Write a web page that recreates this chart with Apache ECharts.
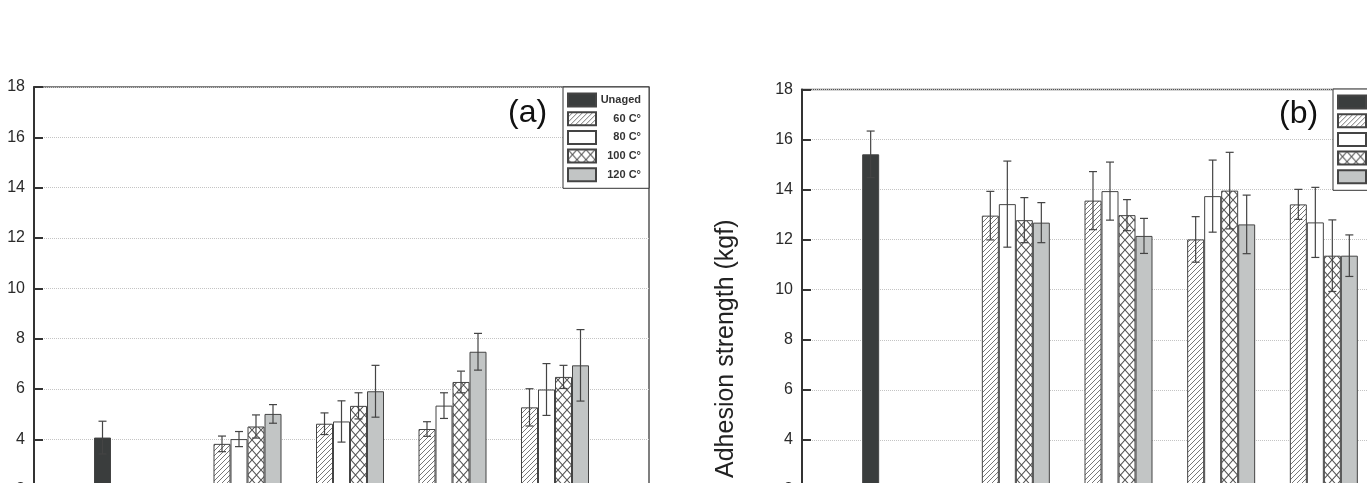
<!DOCTYPE html>
<html>
<head>
<meta charset="utf-8">
<script src="https://cdn.jsdelivr.net/npm/echarts@6/dist/echarts.min.js"></script>
<style>
  html, body { margin: 0; padding: 0; background: #fff; overflow: hidden; width: 1367px; height: 483px; }
  #chart { width: 1450px; height: 620px; }
</style>
</head>
<body>
<div id="chart"></div>
<script>
// categories: empty slots at both ends so the groups sit on ticks 1..5
const categories = ['', 'Unaged', 'G1', 'G2', 'G3', 'G4', ''];
const seriesNames = ['Unaged', '60 C°', '80 C°', '100 C°', '120 C°'];
const yTicks = [0, 18, 2]; // min, max, interval

// panel (a)
const aUnaged = [4.07];
const aUnagedErr = [0.65];
const a60 = [3.82, 4.62, 4.41, 5.27];
const a60Err = [0.31, 0.43, 0.29, 0.74];
const a80 = [4.01, 4.71, 5.34, 5.98];
const a80Err = [0.30, 0.82, 0.51, 1.03];
const a100 = [4.51, 5.33, 6.28, 6.48];
const a100Err = [0.46, 0.52, 0.43, 0.46];
const a120 = [5.01, 5.91, 7.48, 6.94];
const a120Err = [0.37, 1.03, 0.73, 1.42];

// panel (b)
const bUnaged = [15.41];
const bUnagedErr = [0.93];
const b60 = [12.96, 13.56, 12.01, 13.41];
const b60Err = [0.97, 1.16, 0.91, 0.60];
const b80 = [13.42, 13.94, 13.74, 12.69];
const b80Err = [1.72, 1.16, 1.44, 1.40];
const b100 = [12.78, 12.98, 13.96, 11.36];
const b100Err = [0.90, 0.62, 1.53, 1.43];
const b120 = [12.68, 12.15, 12.61, 11.36];
const b120Err = [0.80, 0.70, 1.17, 0.83];

const BAR_W = 17;
const FONT = 'Liberation Sans, Arial, sans-serif';

function makePattern(w, h, draw) {
  const c = document.createElement('canvas');
  c.width = w; c.height = h;
  const ctx = c.getContext('2d');
  ctx.fillStyle = '#fff';
  ctx.fillRect(0, 0, w, h);
  draw(ctx, w, h);
  return { image: c, repeat: 'repeat' };
}
const hatch = makePattern(5, 5, (ctx, w, h) => {
  ctx.strokeStyle = '#777'; ctx.lineWidth = 1;
  ctx.beginPath();
  ctx.moveTo(-1, h + 1); ctx.lineTo(w + 1, -1);
  ctx.moveTo(-1, 1); ctx.lineTo(1, -1);
  ctx.moveTo(w - 1, h + 1); ctx.lineTo(w + 1, h - 1);
  ctx.stroke();
});
const cross = makePattern(9, 10, (ctx, w, h) => {
  ctx.strokeStyle = '#555'; ctx.lineWidth = 1.1;
  ctx.beginPath();
  ctx.moveTo(0, 0); ctx.lineTo(w, h);
  ctx.moveTo(0, h); ctx.lineTo(w, 0);
  ctx.stroke();
});
const fills = ['#3a3d3d', hatch, '#ffffff', cross, '#c2c5c5'];

function row(vals, start) {
  const out = new Array(categories.length).fill(null);
  vals.forEach((v, i) => { out[start + i] = v; });
  return out;
}

function panelSeries(g, means, errs) {
  const list = [];
  const errData = [];
  means.forEach((vals, k) => {
    const start = k === 0 ? 1 : 2;
    list.push({
      name: seriesNames[k], type: 'bar', xAxisIndex: g, yAxisIndex: g,
      data: row(vals, start), barWidth: BAR_W, barGap: '0%',
      itemStyle: { color: fills[k], borderColor: '#444', borderWidth: 1 },
      emphasis: { disabled: true }
    });
    vals.forEach((v, i) => errData.push([start + i, v, errs[k][i], k]));
  });
  list.push({
    type: 'custom', xAxisIndex: g, yAxisIndex: g, z: 5, silent: true,
    data: errData,
    renderItem: (params, api) => {
      const x = api.coord([api.value(0), 0])[0] + (api.value(3) - 2) * BAR_W;
      const top = api.coord([api.value(0), api.value(1) + api.value(2)])[1];
      const bot = api.coord([api.value(0), api.value(1) - api.value(2)])[1];
      const st = { stroke: '#444', lineWidth: 1.2 };
      return { type: 'group', children: [
        { type: 'line', shape: { x1: x, y1: top, x2: x, y2: bot }, style: st },
        { type: 'line', shape: { x1: x - 4, y1: top, x2: x + 4, y2: top }, style: st },
        { type: 'line', shape: { x1: x - 4, y1: bot, x2: x + 4, y2: bot }, style: st }
      ] };
    }
  });
  return list;
}

function yAxis(g, name) {
  return {
    type: 'value', gridIndex: g, min: yTicks[0], max: yTicks[1], interval: yTicks[2],
    name: name, nameLocation: 'middle', nameGap: 63,
    nameTextStyle: { fontSize: 25, color: '#222', fontFamily: FONT, padding: [0, 68, 0, 0] },
    axisLine: { show: true, lineStyle: { color: '#333', width: 2 } },
    axisTick: { show: true, inside: true, length: 9, lineStyle: { color: '#333', width: 2 } },
    axisLabel: { fontSize: 16, color: '#2a2a2a', margin: 9, fontFamily: FONT },
    splitLine: { show: true, lineStyle: { color: '#c4c4c4', type: 'dotted', width: 1 } }
  };
}
function xAxis(g) {
  return {
    type: 'category', gridIndex: g, data: categories, boundaryGap: false,
    axisLine: { lineStyle: { color: '#333', width: 2 } },
    axisTick: { show: false }, axisLabel: { show: false }, splitLine: { show: false }
  };
}
function legend(left, top) {
  return {
    left: left, top: top, orient: 'vertical', data: seriesNames, selectedMode: false,
    icon: 'rect', itemWidth: 28, itemHeight: 13, itemGap: 3.7,
    padding: [5.5, 8, 6, 4], borderColor: '#333', borderWidth: 1, backgroundColor: '#fff',
    formatter: n => '{t|' + n + '}',
    textStyle: { rich: { t: { width: 40, align: 'right', fontSize: 11, fontWeight: 'bold', color: '#333', fontFamily: FONT } } }
  };
}

const chart = echarts.init(document.getElementById('chart'), null, { renderer: 'canvas' });
chart.setOption({
  animation: false,
  backgroundColor: '#fff',
  title: [
    { text: '(a)', left: 508, top: 97, padding: 0, textStyle: { fontSize: 32, fontWeight: 'normal', color: '#111', fontFamily: FONT } },
    { text: '(b)', left: 1279, top: 98, padding: 0, textStyle: { fontSize: 32, fontWeight: 'normal', color: '#111', fontFamily: FONT } }
  ],
  legend: [legend(563, 87), legend(1333, 89)],
  grid: [
    { left: 34, top: 87, width: 615, height: 453, show: true, borderColor: '#555', borderWidth: 1.5, backgroundColor: 'transparent' },
    { left: 802, top: 89.5, width: 616, height: 450.5, show: true, borderColor: '#555', borderWidth: 1.5, backgroundColor: 'transparent' }
  ],
  xAxis: [xAxis(0), xAxis(1)],
  yAxis: [yAxis(0, ''), yAxis(1, 'Adhesion strength (kgf)')],
  series: [
    ...panelSeries(0, [aUnaged, a60, a80, a100, a120], [aUnagedErr, a60Err, a80Err, a100Err, a120Err]),
    ...panelSeries(1, [bUnaged, b60, b80, b100, b120], [bUnagedErr, b60Err, b80Err, b100Err, b120Err])
  ]
});
</script>
</body>
</html>
